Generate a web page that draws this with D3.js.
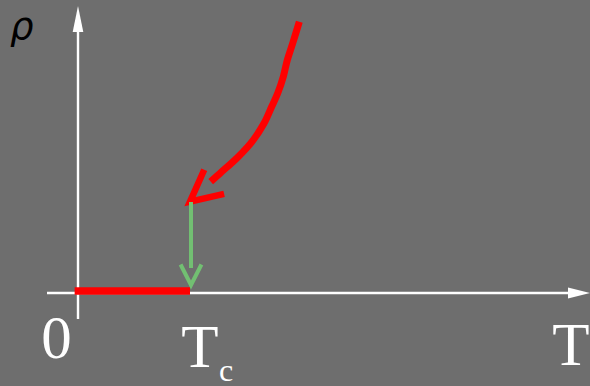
<!DOCTYPE html>
<html>
<head>
<meta charset="utf-8">
<script src="https://cdn.jsdelivr.net/npm/d3@7/dist/d3.min.js"></script>
<style>
html,body{margin:0;padding:0;background:#6e6e6e;}
svg{display:block;}
</style>
</head>
<body>
<svg id="chart" width="590" height="386"></svg>
<script>
// ---- data (T in units of Tc, rho in arbitrary units) ----
const curveT   = [1.976, 1.917, 1.869, 1.833, 1.783, 1.729, 1.661, 1.565, 1.431, 1.268, 1.185];
const curveRho = [2.693, 2.477, 2.310, 2.143, 1.977, 1.843, 1.677, 1.510, 1.343, 1.177, 1.093];
const arrowTip = [1.0, 0.893];          // where the red curve's arrow lands (T, rho)
const dropFrom = [1.0, 0.89];           // green drop arrow start
const dropTo   = [1.0, 0.06];           // green drop arrow tip
const zeroLineT = [-0.03, 1.0];         // rho = 0 segment below Tc
const zeroLineRho = [0, 0];
const tickLabels = ["0", "T", "T"];     // origin, Tc, T axis
const axisLabelY = "ρ";

// ---- scales ----
const W = 590, H = 386;
const x = d3.scaleLinear().domain([0, 1]).range([78, 190]);
const y = d3.scaleLinear().domain([0, 2.85]).range([291, 6]);

const svg = d3.select("#chart");
svg.append("rect").attr("width", W).attr("height", H).attr("fill", "#6e6e6e");

const white = "#ffffff";
// axes
const axisY = 293;   // pixel row of horizontal axis
svg.append("line").attr("x1", 47).attr("x2", 570).attr("y1", axisY).attr("y2", axisY)
  .attr("stroke", white).attr("stroke-width", 2.4);
svg.append("path").attr("d", `M590,${axisY} L568,${axisY-5.5} L568,${axisY+5.5} Z`).attr("fill", white);
svg.append("line").attr("x1", x(0)).attr("x2", x(0)).attr("y1", 319).attr("y2", 28)
  .attr("stroke", white).attr("stroke-width", 2.4);
svg.append("path").attr("d", `M${x(0)},6 L${x(0)-5.3},32 L${x(0)+5.3},32 Z`).attr("fill", white);

// rho = 0 red segment
const zeroPts = zeroLineT.map((t, i) => [t, zeroLineRho[i]]);
svg.append("path")
  .attr("d", d3.line().x(d => x(d[0])).y(d => y(d[1]))(zeroPts))
  .attr("stroke", "#ff0000").attr("stroke-width", 7.5).attr("fill", "none");

// red curve
const pts = curveT.map((t, i) => [t, curveRho[i]]);
svg.append("path")
  .attr("d", d3.line().curve(d3.curveCatmullRom).x(d => x(d[0])).y(d => y(d[1]))(pts))
  .attr("stroke", "#ff0000").attr("stroke-width", 7).attr("fill", "none");

// open arrowhead helper
function openHead(tx, ty, angDeg, half, len, color, sw) {
  const a1 = (angDeg - half) * Math.PI / 180, a2 = (angDeg + half) * Math.PI / 180;
  const p1 = [tx + len * Math.cos(a1), ty + len * Math.sin(a1)];
  const p2 = [tx + len * Math.cos(a2), ty + len * Math.sin(a2)];
  svg.append("path")
    .attr("d", `M${p1[0]},${p1[1]} L${tx},${ty} L${p2[0]},${p2[1]}`)
    .attr("stroke", color).attr("stroke-width", sw).attr("fill", "none")
    .attr("stroke-linejoin", "miter").attr("stroke-miterlimit", 10);
}
openHead(x(arrowTip[0]), y(arrowTip[1]), -39.5, 26.5, 35, "#ff0000", 6.5);

// green drop arrow
const green = "#72bf72";
svg.append("line").attr("x1", x(dropFrom[0]) + 1).attr("x2", x(dropFrom[0]) + 1)
  .attr("y1", y(dropFrom[1])).attr("y2", 268)
  .attr("stroke", green).attr("stroke-width", 4);
openHead(x(dropTo[0]) + 1, y(dropTo[1]), -90, 27, 23, green, 4);

// text labels
const serif = "'Liberation Serif','Times New Roman',serif";
svg.append("text").attr("x", 56.5).attr("y", 358).attr("text-anchor", "middle")
  .attr("font-family", serif).attr("font-size", 61).attr("fill", white).text(tickLabels[0]);
svg.append("text").attr("x", 200).attr("y", 367).attr("text-anchor", "middle")
  .attr("font-family", serif).attr("font-size", 61).attr("fill", white).text(tickLabels[1]);
svg.append("text").attr("x", 219).attr("y", 381)
  .attr("font-family", serif).attr("font-size", 32).attr("fill", white).text("c");
svg.append("text").attr("x", 571).attr("y", 365).attr("text-anchor", "middle")
  .attr("font-family", serif).attr("font-size", 61).attr("fill", white).text(tickLabels[2]);
svg.append("text").attr("x", 10).attr("y", 39)
  .attr("font-family", "'DejaVu Sans',sans-serif").attr("font-style", "italic")
  .attr("font-size", 37).attr("fill", "#000").text(axisLabelY);
</script>
</body>
</html>
